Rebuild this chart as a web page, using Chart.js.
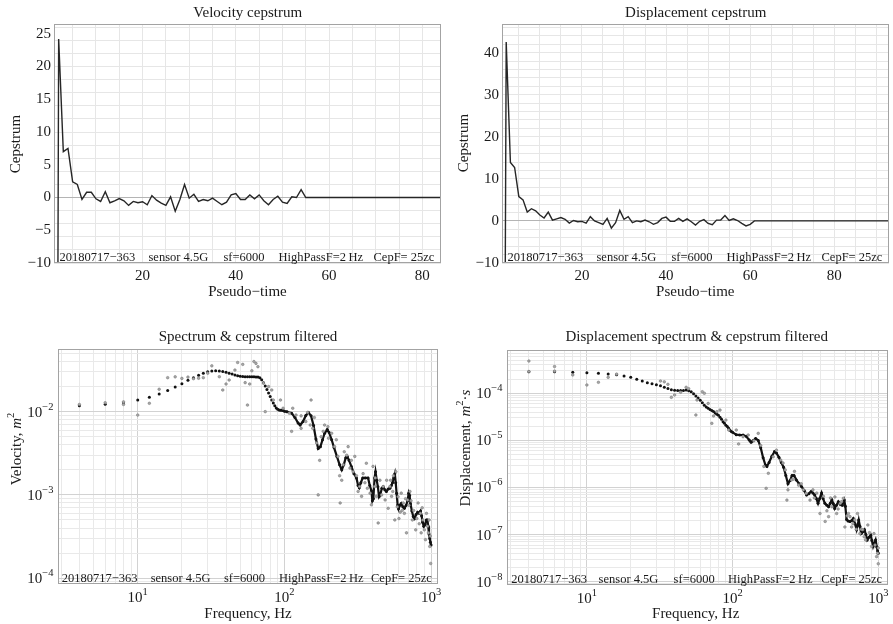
<!DOCTYPE html>
<html>
<head>
<meta charset="utf-8">
<script src="https://cdn.jsdelivr.net/npm/chart.js@4.4.1/dist/chart.umd.min.js"></script>
<style>
  body { margin: 0; background: #fff; width: 893px; height: 624px; position: relative; overflow: hidden; }
  canvas { position: absolute; }
</style>
</head>
<body>
<canvas id="velCep" width="446" height="300" style="left:0;top:0"></canvas>
<canvas id="dispCep" width="447" height="300" style="left:446px;top:0"></canvas>
<canvas id="velSpec" width="446" height="324" style="left:0;top:300px"></canvas>
<canvas id="dispSpec" width="447" height="324" style="left:446px;top:300px"></canvas>
<script>
// Cepstrum values, pseudo-time 1, 2, 3, ... (first value is far below the plot)
const velCepstrum = [
  -200, 24.2, 7.0, 7.5, 2.4, 2.0, -0.3, 0.8, 0.8, -0.2, -0.6, 0.9, -0.8, -0.5, -0.15,
  -0.5, -1.2, -0.6, -0.8, -0.65, -1.1, 0.3, -0.4, -0.85, -1.2, 0.1, -2.1, -0.3, 2.0, -0.1,
  0.5, -0.6, -0.3, -0.5, -0.1, -0.6, -1.1, -0.7, 0.4, 0.6, -0.3, -0.3, 0.4, -0.2, 0.4,
  -0.5, -1.1, -0.3, 0.2, -0.7, -0.9, 0.1, 0.0, 1.2, 0.0,
  0, 0, 0, 0, 0, 0, 0, 0, 0, 0, 0, 0, 0, 0, 0, 0, 0, 0, 0, 0, 0, 0, 0, 0, 0, 0, 0, 0, 0, 0
];
const dispCepstrum = [
  -200, 42.5, 13.9, 12.7, 5.8, 5.0, 2.1, 2.9, 2.4, 1.4, 0.7,
  2.1, 0.2, 0.5, 0.8, 0.4, -0.5, 0.1, -0.2, -0.1, -0.5,
  1.0, 0.0, -0.4, -0.8, 0.6, -1.7, -0.4, 2.5, 0.4, 1.0,
  -0.4, 0.0, -0.2, 0.2, -0.2, -0.8, -0.4, 0.6, 0.9, -0.1,
  -0.1, 0.6, -0.1, 0.5, -0.2, -1.0, -0.1, 0.3, -0.6, -0.9,
  0.2, 0.2, 1.3, 0.1, 0.5, 0.1, -0.6, -1.2, -0.8, 0.0,
  0, 0, 0, 0, 0, 0, 0, 0, 0, 0, 0, 0, 0, 0, 0, 0, 0, 0, 0, 0, 0, 0, 0, 0, 0, 0, 0, 0, 0, 0, 0, 0, 0
];

// Velocity spectrum [Hz, m^2]: cepstrum filtered (black) and raw (grey)
const velFiltered = [
  [4,0.0118],[6,0.0123],[8,0.0127],[10,0.0138],[12,0.0149],[14,0.0163],[16,0.0179],[18,0.0198],
  [20,0.0217],[22,0.0238],[24,0.0256],[26,0.0274],[28,0.029],[30,0.0302],[32,0.0309],[34,0.0311],
  [36,0.0309],[38,0.0304],[40,0.0297],[42,0.029],[44,0.0283],[46,0.0276],[48,0.027],[50,0.0266],
  [52,0.0264],[54,0.0263],[56,0.0263],[58,0.0262],[60,0.0262],[62,0.0262],[64,0.0261],[66,0.026],
  [68,0.0255],[70,0.0242],[72,0.0222],[74,0.0203],[76,0.0185],[78,0.0168],[80,0.0152],[82,0.0138],
  [84,0.0127],[86,0.0118],[88,0.0111],[90,0.0107],[92,0.0105],[94,0.0104],[96,0.0104],[98,0.0103],
  [100,0.0101],[104,0.0100],[112,0.0096],[118,0.0085],[124,0.0073],[128,0.0069],[134,0.0076],
  [140,0.0090],[146,0.0098],[152,0.0089],[158,0.0068],[164,0.0047],[170,0.0036],[176,0.0038],
  [182,0.0046],[188,0.0055],[196,0.0061],[202,0.0056],[210,0.0046],[218,0.0037],[228,0.0029],
  [238,0.0023],[246,0.0020],[254,0.0023],[262,0.0028],[268,0.0029],[276,0.0026],[286,0.0022],
  [298,0.0018],[310,0.0016],[318,0.0013],[324,0.00122],[332,0.0014],[342,0.0016],[356,0.0016],
  [372,0.0016],[382,0.0013],[392,0.00112],[398,0.00085],[404,0.0009],[412,0.0016],[418,0.0019],
  [426,0.0015],[434,0.00125],[442,0.00095],[450,0.0010],[462,0.0012],[472,0.00125],[484,0.00115],
  [496,0.0011],[510,0.00118],[524,0.0012],[536,0.0013],[546,0.0014],[556,0.0016],[566,0.0018],
  [574,0.0014],[582,0.00105],[592,0.00075],[600,0.00068],[612,0.00075],[626,0.00079],[642,0.00072],
  [658,0.00069],[676,0.00075],[692,0.00085],[704,0.00105],[714,0.00098],[724,0.00078],[740,0.00064],
  [756,0.00055],[772,0.00052],[790,0.00058],[810,0.00062],[830,0.0006],[848,0.00064],[862,0.00056],
  [876,0.00047],[892,0.00042],[910,0.00044],[930,0.0005],[944,0.0005],[956,0.00042],[968,0.00034],
  [980,0.0003],[990,0.00027],[1000,0.00025]
];
const velRaw = [
  [4,0.0122],[6,0.0128],[8,0.0122],[8,0.0131],[10,0.0091],[12,0.0126],[14,0.0186],[16,0.0256],
  [18,0.0262],[20,0.0251],[22,0.026],[24,0.0249],[26,0.0252],[28,0.0256],[30,0.029],[32,0.0355],
  [36,0.0263],[38,0.0182],[40,0.0215],[42,0.024],[46,0.0316],[48,0.039],[52,0.037],[54,0.0223],
  [56,0.012],[58,0.0215],[60,0.031],[62,0.040],[64,0.038],[66,0.0347],[72,0.022],[74,0.010],
  [78,0.020],[82,0.0182],[84,0.0138],[94,0.0138],[98,0.011],[108,0.0096],[112,0.0058],[114,0.011],
  [120,0.0091],[130,0.0063],[130,0.0089],[140,0.0076],[144,0.0098],[150,0.0069],[152,0.0138],
  [156,0.0063],[160,0.0085],[166,0.0042],[170,0.001],[174,0.0026],[178,0.005],[184,0.0058],
  [188,0.0069],[198,0.0066],[200,0.0048],[210,0.0055],[220,0.0038],[226,0.0046],[232,0.0029],
  [238,0.0017],[240,0.0008],[246,0.0015],[252,0.0023],[256,0.0033],[266,0.003],[272,0.0038],
  [280,0.0021],[286,0.0026],[294,0.0019],[302,0.0029],[310,0.0017],[318,0.0011],[326,0.00126],
  [336,0.00096],[344,0.0018],[354,0.0014],[362,0.0024],[368,0.0012],[384,0.00105],[392,0.00076],
  [402,0.0022],[412,0.00126],[416,0.0016],[424,0.00096],[436,0.00046],[448,0.0015],[460,0.001],
  [472,0.00126],[486,0.00087],[498,0.0015],[510,0.00069],[524,0.00126],[530,0.0015],[538,0.00096],
  [548,0.0011],[554,0.0017],[566,0.0005],[576,0.0019],[588,0.00072],[596,0.00095],[604,0.00052],
  [616,0.00062],[626,0.00105],[636,0.00065],[646,0.0008],[658,0.0006],[670,0.0009],[680,0.00035],
  [692,0.00087],[706,0.00075],[718,0.0011],[730,0.00085],[746,0.0005],[760,0.00065],[786,0.00038],
  [800,0.00052],[816,0.0008],[830,0.00045],[846,0.0006],[856,0.00035],[870,0.0007],[880,0.0005],
  [900,0.00038],[916,0.00029],[930,0.0006],[946,0.00042],[960,0.00035],[970,0.0005],[980,0.00024],
  [988,0.00032],[994,0.00015]
];

// Displacement spectrum [Hz, m^2*s]: cepstrum filtered (black) and raw (grey)
const dispFiltered = [
  [4,2.88e-4],[6,2.88e-4],[8,2.78e-4],[10,2.74e-4],[12,2.66e-4],[14,2.57e-4],[16,2.48e-4],
  [18,2.33e-4],[20,2.19e-4],[22,1.98e-4],[24,1.82e-4],[26,1.68e-4],[28,1.6e-4],[30,1.52e-4],
  [32,1.44e-4],[34,1.34e-4],[36,1.27e-4],[38,1.19e-4],[40,1.16e-4],[42,1.14e-4],[44,1.14e-4],
  [46,1.15e-4],[48,1.17e-4],[50,1.13e-4],[52,1.08e-4],[54,9.8e-5],[56,8.8e-5],[58,7.9e-5],
  [60,7.1e-5],[62,6.3e-5],[64,5.6e-5],[66,5.1e-5],[68,4.8e-5],[70,4.5e-5],[72,4.3e-5],[74,4.1e-5],
  [76,3.8e-5],[78,3.6e-5],[80,3.4e-5],[82,3.1e-5],[84,2.8e-5],[86,2.5e-5],[88,2.3e-5],[90,2.1e-5],
  [92,1.97e-5],[94,1.8e-5],[96,1.65e-5],[98,1.54e-5],[100,1.48e-5],[106,1.32e-5],[112,1.3e-5],
  [118,1.3e-5],[124,1.22e-5],[130,1.02e-5],[134,9.1e-6],[138,9.8e-6],[144,1.1e-5],[150,1.0e-5],
  [156,7e-6],[162,4.3e-6],[168,3.0e-6],[172,2.8e-6],[178,3.4e-6],[186,4.6e-6],[194,5.8e-6],
  [200,5.4e-6],[208,4.4e-6],[216,3.4e-6],[224,2.7e-6],[232,1.8e-6],[240,1.2e-6],[248,1.4e-6],
  [256,1.8e-6],[264,1.8e-6],[274,1.45e-6],[286,1.2e-6],[298,1.04e-6],[310,8.6e-7],[322,6.9e-7],
  [334,7.4e-7],[346,8.2e-7],[356,7.6e-7],[366,6.9e-7],[376,5.8e-7],[386,4.6e-7],[396,5.8e-7],
  [408,7.6e-7],[418,5.8e-7],[430,4.6e-7],[444,4.2e-7],[456,3.9e-7],[468,4.6e-7],[480,5.5e-7],
  [492,4.5e-7],[502,3.6e-7],[516,4.2e-7],[532,5e-7],[548,4.4e-7],[566,4.2e-7],[584,5.4e-7],
  [594,4e-7],[606,2.1e-7],[620,1.95e-7],[640,1.9e-7],[658,2.0e-7],[674,2.2e-7],[692,1.7e-7],
  [710,1.27e-7],[722,1.6e-7],[734,2.05e-7],[748,1.5e-7],[764,1.05e-7],[784,1.15e-7],[804,1.27e-7],
  [822,1.0e-7],[840,7.7e-8],[864,8.8e-8],[888,9.7e-8],[904,7.5e-8],[922,5.6e-8],[940,6.6e-8],
  [958,7.7e-8],[976,5.5e-8],[990,4.5e-8],[1000,4e-8]
];
const dispRaw = [
  [4,4.84e-4],[4,2.9e-4],[6,3.7e-4],[6,2.95e-4],[8,2.45e-4],[10,1.5e-4],[12,1.71e-4],[14,2.18e-4],
  [16,2.55e-4],[32,1.82e-4],[34,1.75e-4],[36,1.55e-4],[38,8.2e-5],[40,9.2e-5],[44,1.05e-4],
  [48,1.34e-4],[50,1.25e-4],[56,3.46e-5],[57,7.2e-5],[62,1.08e-4],[64,1e-4],[68,6.1e-5],[72,2.3e-5],
  [74,3.3e-5],[78,4.07e-5],[82,4.4e-5],[90,2.7e-5],[94,1.66e-5],[106,1.66e-5],[110,8.4e-6],
  [118,1.2e-5],[128,1.3e-5],[140,9.8e-6],[150,1.41e-5],[156,7.8e-6],[164,2.8e-6],[170,9.6e-7],
  [176,2e-6],[190,4.5e-6],[200,6.2e-6],[214,3.8e-6],[222,3.3e-6],[230,2.36e-6],[236,5.4e-7],
  [240,8.9e-7],[254,1.45e-6],[262,1.5e-6],[266,2.2e-6],[284,1.12e-6],[296,1.2e-6],[306,8.9e-7],
  [320,7.5e-7],[340,5.4e-7],[356,8.9e-7],[364,6e-7],[378,7.6e-7],[398,2.8e-7],[420,6.5e-7],
  [432,1.9e-7],[444,3.2e-7],[456,2.4e-7],[470,6e-7],[480,3.9e-7],[504,6.3e-7],[518,2.8e-7],
  [530,3.5e-7],[548,4.6e-7],[560,5e-7],[576,5.9e-7],[590,1.45e-7],[610,2.5e-7],[624,2.8e-7],
  [640,2.4e-7],[656,1.45e-7],[670,1.7e-7],[690,2.05e-7],[706,1.3e-7],[720,2.8e-7],[748,1.05e-7],
  [764,1.3e-7],[782,1.27e-7],[800,9e-8],[818,7.7e-8],[848,1.6e-7],[870,1.1e-7],[900,5.6e-8],
  [934,1.05e-7],[950,6e-8],[974,3.4e-8],[990,4e-8],[1000,2.4e-8],[1000,5.2e-8]
];

const NOTE = ['20180717\u2212363', 'sensor 4.5G', 'sf=6000', 'HighPassF=2\u2009Hz', 'CepF= 25zc'];

const SERIF = '"Liberation Serif", "DejaVu Serif", serif';
const INK = '#1a1a1a';

// Layout of each panel (canvas-relative pixels)
const PANELS = {
  velCep: {
    area: [54, 24, 441, 263], title: 'Velocity cepstrum', titlePos: [247.7, 12],
    xTitle: [{t: 'Pseudo\u2212time'}], xTitlePos: [247.5, 290.5],
    yTitle: [{t: 'Cepstrum'}], yTitlePos: [14.5, 144],
    note: [5.5, 94.5, 169.5, 224.5, 319.5], noteDy: 2.5
  },
  dispCep: {
    area: [56, 24, 443, 263], title: 'Displacement cepstrum', titlePos: [249.7, 12],
    xTitle: [{t: 'Pseudo\u2212time'}], xTitlePos: [249.3, 290.5],
    yTitle: [{t: 'Cepstrum'}], yTitlePos: [16.5, 143],
    note: [5.5, 94.5, 169.5, 224.5, 319.5], noteDy: 2.5
  },
  velSpec: {
    area: [58, 49, 438, 284], title: 'Spectrum & cepstrum filtered', titlePos: [248, 36],
    xTitle: [{t: 'Frequency, Hz'}], xTitlePos: [248, 313],
    yTitle: [{t: 'Velocity, '}, {t: 'm', italic: true}, {t: '2', sup: true}], yTitlePos: [16, 149],
    note: [3.7, 92.7, 166, 221, 313], noteDy: 2.3, log: true
  },
  dispSpec: {
    area: [61, 50, 442, 285], title: 'Displacement spectrum & cepstrum filtered', titlePos: [250.7, 36],
    xTitle: [{t: 'Frequency, Hz'}], xTitlePos: [249.7, 313],
    yTitle: [{t: 'Displacement, '}, {t: 'm', italic: true}, {t: '2', sup: true}, {t: '\u00b7'}, {t: 's', italic: true}],
    yTitlePos: [18.5, 148],
    note: [4.3, 91.6, 166.6, 221, 314.3], noteDy: 2.3, log: true
  }
};

function drawRich(ctx, segs, cx, cy, rot) {
  ctx.save();
  ctx.translate(cx, cy);
  ctx.rotate(rot);
  ctx.fillStyle = INK;
  ctx.textBaseline = 'alphabetic';
  ctx.textAlign = 'left';
  let total = 0;
  const parts = segs.map(s => {
    const font = (s.italic ? 'italic ' : '') + (s.sup ? '10.5px ' : '15px ') + SERIF;
    ctx.font = font;
    const w = ctx.measureText(s.t).width;
    total += w;
    return {s, font, w};
  });
  let x = -total / 2;
  parts.forEach(p => {
    ctx.font = p.font;
    ctx.fillText(p.s.t, x, p.s.sup ? -2 : 5);
    x += p.w;
  });
  ctx.restore();
}

function powerLabel(ctx, exp, x, y, align) {
  const base = '10';
  const sup = exp < 0 ? '\u2212' + (-exp) : String(exp);
  ctx.font = '15px ' + SERIF;
  const bw = ctx.measureText(base).width;
  ctx.font = '10.5px ' + SERIF;
  const sw = ctx.measureText(sup).width;
  const x0 = align === 'right' ? x - bw - sw : x - (bw + sw) / 2;
  ctx.font = '15px ' + SERIF;
  ctx.fillText(base, x0, y + 5);
  ctx.font = '10.5px ' + SERIF;
  ctx.fillText(sup, x0 + bw, y - 2);
}

const decorPlugin = {
  id: 'decor',
  afterDatasetsDraw(chart) {
    const cfg = PANELS[chart.canvas.id];
    const {ctx, chartArea: a} = chart;
    ctx.save();
    ctx.strokeStyle = '#a3a3a3';
    ctx.lineWidth = 1;
    ctx.strokeRect(Math.round(a.left) + 0.5, Math.round(a.top) + 0.5,
      Math.round(a.right - a.left) - 1, Math.round(a.bottom - a.top) - 1);

    ctx.fillStyle = INK;
    ctx.textAlign = 'left';
    ctx.textBaseline = 'alphabetic';
    ctx.font = '12.5px ' + SERIF;
    NOTE.forEach((t, i) => ctx.fillText(t, a.left + cfg.note[i], a.bottom - cfg.noteDy));

    drawRich(ctx, [{t: cfg.title}], cfg.titlePos[0], cfg.titlePos[1], 0);
    drawRich(ctx, cfg.xTitle, cfg.xTitlePos[0], cfg.xTitlePos[1], 0);
    drawRich(ctx, cfg.yTitle, cfg.yTitlePos[0], cfg.yTitlePos[1], -Math.PI / 2);

    if (cfg.log) {
      const xs = chart.scales.x, ys = chart.scales.y;
      for (let e = Math.ceil(Math.log10(xs.min)); e <= Math.floor(Math.log10(xs.max)); e++) {
        powerLabel(ctx, e, xs.getPixelForValue(Math.pow(10, e)), a.bottom + 12.7, 'center');
      }
      for (let e = Math.ceil(Math.log10(ys.min)); e <= Math.floor(Math.log10(ys.max)); e++) {
        powerLabel(ctx, e, a.left - 4.5, ys.getPixelForValue(Math.pow(10, e)), 'right');
      }
    }
    ctx.restore();
  }
};

function fitAxes(canvas) {
  const cfg = PANELS[canvas.id];
  const [l, t, r, b] = cfg.area;
  return {
    padding: {left: 0, top: t, right: canvas.width - r, bottom: 0},
    xFit: s => { s.height = canvas.height - b; },
    yFit: s => { s.width = l; }
  };
}

function minusLabel(v) {
  return v < 0 ? '\u2212' + Math.abs(v) : String(v);
}

function makeCepstrum(id, values, xMax, yMax, yLabelStep) {
  const canvas = document.getElementById(id);
  const fit = fitAxes(canvas);
  return new Chart(canvas, {
    type: 'scatter',
    data: {
      datasets: [{
        data: values.map((v, i) => ({x: i + 1, y: v})),
        showLine: true,
        borderColor: '#262626',
        borderWidth: 1.4,
        pointRadius: 0
      }]
    },
    options: {
      responsive: false,
      animation: false,
      events: [],
      layout: {padding: fit.padding},
      plugins: {legend: {display: false}, tooltip: {enabled: false}},
      scales: {
        x: {
          type: 'linear', min: 1, max: xMax,
          afterFit: fit.xFit,
          border: {display: false},
          grid: {color: '#e6e6e6', drawTicks: false},
          ticks: {
            stepSize: 5, includeBounds: false, autoSkip: false, maxRotation: 0, padding: 4,
            color: INK, font: {family: SERIF, size: 15},
            callback: v => (v % 20 === 0 ? String(v) : '')
          }
        },
        y: {
          min: -10, max: yMax,
          afterFit: fit.yFit,
          border: {display: false},
          grid: {
            drawTicks: false,
            color: c => (c.tick.value === 0 ? '#b4b4b4' : (c.tick.value % 2 === 0 ? '#e6e6e6' : 'rgba(0,0,0,0)'))
          },
          ticks: {
            stepSize: 1, includeBounds: false, autoSkip: false, padding: 3,
            color: INK, font: {family: SERIF, size: 15},
            callback: v => (v % yLabelStep === 0 ? minusLabel(v) : '')
          }
        }
      }
    },
    plugins: [decorPlugin]
  });
}

function logGrid(min, max) {
  const out = [];
  for (let e = Math.floor(Math.log10(min)); e <= Math.ceil(Math.log10(max)); e++) {
    for (let m = 1; m <= 9; m++) {
      const v = Number((m * Math.pow(10, e)).toPrecision(3));
      if (v >= min && v <= max) out.push({value: v});
    }
  }
  return out;
}

function isDecade(v) {
  const l = Math.log10(v);
  return Math.abs(l - Math.round(l)) < 1e-9;
}

function makeSpectrum(id, filtered, raw, xMin, xMax, yMin, yMax) {
  const canvas = document.getElementById(id);
  const fit = fitAxes(canvas);
  const logAxis = (min, max, afterFit) => ({
    type: 'logarithmic', min, max, afterFit,
    afterBuildTicks: s => { s.ticks = logGrid(s.min, s.max); },
    border: {display: false},
    grid: {drawTicks: false, color: c => (isDecade(c.tick.value) ? '#d2d2d2' : '#e9e9e9')},
    ticks: {display: false, autoSkip: false}
  });
  return new Chart(canvas, {
    type: 'scatter',
    data: {
      datasets: [
        {
          data: raw.map(([x, y]) => ({x, y})),
          pointRadius: 1.3,
          pointBackgroundColor: '#a8a8a8',
          pointBorderColor: '#7c7c7c',
          pointBorderWidth: 0.6
        },
        {
          data: filtered.map(([x, y]) => ({x, y})),
          showLine: true,
          borderWidth: 2.2,
          segment: {borderColor: c => (c.p0.parsed.x >= 100 ? '#111' : 'rgba(0,0,0,0)')},
          pointRadius: 1.5,
          pointBackgroundColor: '#111',
          pointBorderWidth: 0
        }
      ]
    },
    options: {
      responsive: false,
      animation: false,
      events: [],
      layout: {padding: fit.padding},
      plugins: {legend: {display: false}, tooltip: {enabled: false}},
      scales: {
        x: logAxis(xMin, xMax, fit.xFit),
        y: logAxis(yMin, yMax, fit.yFit)
      }
    },
    plugins: [decorPlugin]
  });
}

makeCepstrum('velCep', velCepstrum, 84, 26.5, 5);
makeCepstrum('dispCep', dispCepstrum, 93, 46.8, 10);
makeSpectrum('velSpec', velFiltered, velRaw, 2.86, 1115, 8.5e-5, 0.0566);
makeSpectrum('dispSpec', dispFiltered, dispRaw, 2.83, 1166, 8.5e-9, 8.3e-4);
</script>
</body>
</html>
